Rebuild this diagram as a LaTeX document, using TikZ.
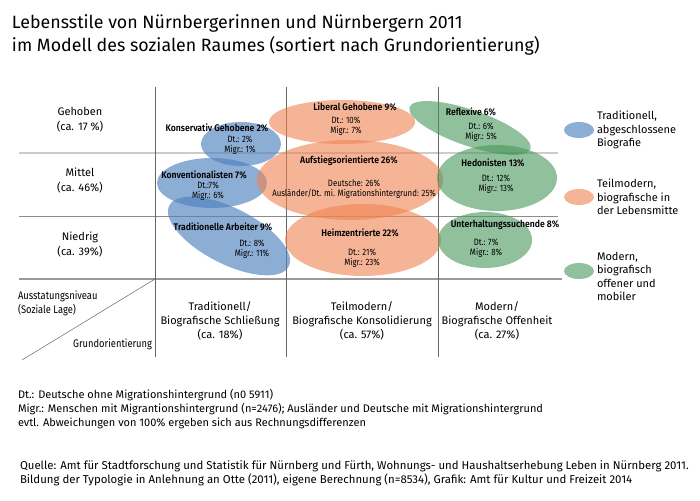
\documentclass[tikz,border=0pt]{standalone}
\usepackage{fontspec}
\setmainfont{Fira Sans}
\newfontfamily\cond[FakeStretch=0.85]{Fira Sans}
\newfontfamily\condb[FakeStretch=0.9]{Fira Sans SemiBold}
\definecolor{tblue}{RGB}{79,129,189}
\definecolor{torange}{RGB}{240,130,80}
\definecolor{tgreen}{RGB}{70,150,90}
\begin{document}
\begin{tikzpicture}[x=1pt,y=-1pt,
  every node/.style={inner sep=0pt,outer sep=0pt},
  title/.style={anchor=west,font=\fontsize{17.8}{20}\selectfont},
  rowlab/.style={align=center,font=\fontsize{11}{15}\selectfont},
  collab/.style={align=center,font=\fontsize{11}{14}\selectfont},
  ehead/.style={font=\condb\fontsize{9.6}{11}\selectfont},
  etext/.style={align=center,font=\cond\fontsize{9.2}{10}\selectfont},
  legtext/.style={anchor=north west,align=left,font=\fontsize{11}{13.5}\selectfont},
  note/.style={anchor=west,font=\fontsize{11}{12}\selectfont},
  quelle/.style={anchor=west,font=\fontsize{11.4}{12}\selectfont},
  bl/.style={fill=tblue,fill opacity=0.65},
  og/.style={fill=torange,fill opacity=0.6},
  gr/.style={fill=tgreen,fill opacity=0.6},
  vline/.style={draw=black!60,line width=0.7pt},
]
\useasboundingbox (0,0) rectangle (700,500);
% title
\node[title] (t1) at (12,23) {Lebensstile von Nürnbergerinnen und Nürnbergern 2011};
\node[title] (t2) at (12,46) {im Modell des sozialen Raumes (sortiert nach Grundorientierung)};
% grid
\coordinate (v1t) at (155,87); \coordinate (v1b) at (155,357);
\coordinate (v2t) at (286,87); \coordinate (v2b) at (286,357);
\coordinate (v3t) at (438,87); \coordinate (v3b) at (438,357);
\coordinate (h1l) at (19,153); \coordinate (h1r) at (558,153);
\coordinate (h2l) at (19,216); \coordinate (h2r) at (558,216);
\coordinate (h3l) at (19,279); \coordinate (h3r) at (562,279);
\coordinate (dg) at (22,360);
\draw[black!20,line width=1.2pt] (h1l) -- (h1r);
\draw[black!45,line width=1pt] (h2l) -- (h2r);
\draw[black!40,line width=1.6pt] (h3l) -- (h3r);
\draw[vline] (v1t) -- (v1b);
\draw[vline] (v2t) -- (v2b);
\draw[vline] (v3t) -- (v3b);
\draw[black!60,line width=0.5pt] (155,279) -- (dg);
% ellipses
\fill[bl] (241,144) ellipse [x radius=40, y radius=22];
\fill[bl] (212,183) ellipse [x radius=55, y radius=25];
\fill[bl,rotate around={-27:(229,236)}] (229,236) ellipse [x radius=67, y radius=28];
\fill[og] (342,122) ellipse [x radius=73, y radius=22];
\fill[og] (350,180) ellipse [x radius=93, y radius=40];
\fill[og] (363,240) ellipse [x radius=78, y radius=36];
\fill[gr,rotate around={-19:(470,128)}] (470,128) ellipse [x radius=64, y radius=18];
\fill[gr] (497,178) ellipse [x radius=60, y radius=33];
\fill[gr] (485,240) ellipse [x radius=47, y radius=28];
% ellipse labels
\node[ehead] (kg) at (217,128) {Konservativ Gehobene 2\%};
\node[etext] (kgd) at (240,145) {Dt.: 2\%\\Migr.: 1\%};
\node[ehead] (kv) at (204,175) {Konventionalisten 7\%};
\node[etext] (kvd) at (208,191.5) {Dt.:7\%\\Migr.: 6\%};
\node[ehead] (ta) at (223,227) {Traditionelle Arbeiter 9\%};
\node[etext] (tad) at (252,249) {Dt.: 8\%\\Migr.: 11\%};
\node[ehead] (lg) at (355,107) {Liberal Gehobene 9\%};
\node[etext] (lgd) at (346,126) {Dt.: 10\%\\Migr.: 7\%};
\node[ehead] (af) at (349,161) {Aufstiegsorientierte 26\%};
\node[etext] (afd) at (354,189) {Deutsche: 26\%\\Ausländer/Dt. mi. Migrationshintergrund: 25\%};
\node[ehead] (hz) at (360,233) {Heimzentrierte 22\%};
\node[etext] (hzd) at (362,258) {Dt.: 21\%\\Migr.: 23\%};
\node[ehead] (rf) at (471,112) {Reflexive 6\%};
\node[etext] (rfd) at (481,132) {Dt.: 6\%\\Migr.: 5\%};
\node[ehead] (hd) at (493,163) {Hedonisten 13\%};
\node[etext] (hdd) at (496,184) {Dt.: 12\%\\Migr.: 13\%};
\node[ehead] (uh) at (505,225) {Unterhaltungssuchende 8\%};
\node[etext] (uhd) at (486,248) {Dt.: 7\%\\Migr.: 8\%};
% row labels
\node[rowlab] (r1) at (80,120) {Gehoben\\(ca. 17 \%)};
\node[rowlab] (r2) at (80,181) {Mittel\\(ca. 46\%)};
\node[rowlab] (r3) at (80,245) {Niedrig\\(ca. 39\%)};
% corner labels
\node[anchor=west,align=left,font=\cond\fontsize{11}{14}\selectfont] (ax) at (18,303) {Ausstatungsniveau\\(Soziale Lage)};
\node[anchor=east,font=\cond\fontsize{11}{14}\selectfont] (go) at (152,344) {Grundorientierung};
% column labels
\node[collab] (c1) at (220,321) {Traditionell/\\Biografische Schließung\\(ca. 18\%)};
\node[collab] (c2) at (362,321) {Teilmodern/\\Biografische Konsolidierung\\(ca. 57\%)};
\node[collab] (c3) at (497,321) {Modern/\\Biografische Offenheit\\(ca. 27\%)};
% legend
\fill[bl] (579,130) ellipse [x radius=15, y radius=8];
\fill[og] (579,197) ellipse [x radius=15, y radius=8];
\fill[gr] (579,271) ellipse [x radius=15, y radius=8];
\node[legtext] (l1) at (597,111) {Traditionell,\\abgeschlossene\\Biografie};
\node[legtext] (l2) at (597,179) {Teilmodern,\\biografische in\\der Lebensmitte};
\node[legtext] (l3) at (597,252) {Modern,\\biografisch\\offener und\\mobiler};
% notes
\node[note] (n1) at (18,395) {Dt.: Deutsche ohne Migrationshintergrund (n0 5911)};
\node[note] (n2) at (18,409) {Migr.: Menschen mit Migrantionshintergrund (n=2476); Ausländer und Deutsche mit Migrationshintergrund};
\node[note] (n3) at (18,423) {evtl. Abweichungen von 100\% ergeben sich aus Rechnungsdifferenzen};
\node[quelle] (q1) at (20,466) {Quelle: Amt für Stadtforschung und Statistik für Nürnberg und Fürth, Wohnungs- und Haushaltserhebung Leben in Nürnberg 2011.};
\node[quelle] (q2) at (20,480) {Bildung der Typologie in Anlehnung an Otte (2011), eigene Berechnung (n=8534), Grafik: Amt für Kultur und Freizeit 2014};
\end{tikzpicture}
\end{document}
